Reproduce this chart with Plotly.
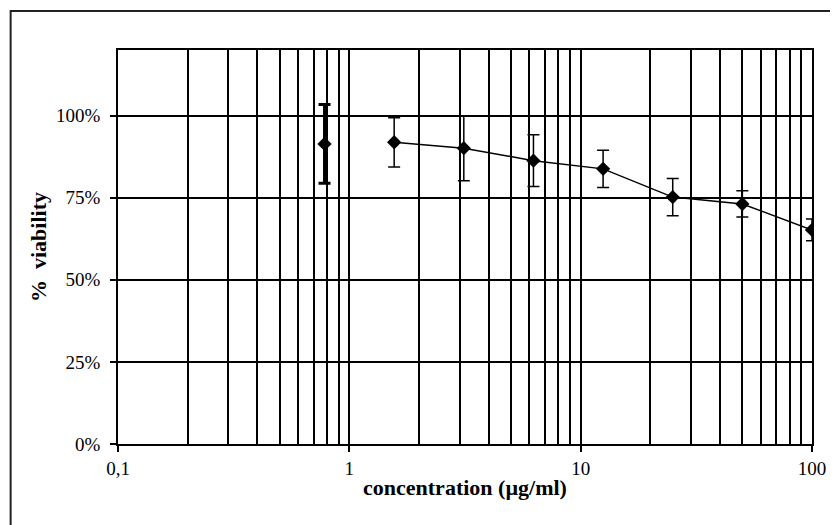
import plotly.graph_objects as go

# concentrations (µg/ml)
conc_first = [0.78125]
viab_first = [0.914]
err_first = [0.12]

conc = [1.5625, 3.125, 6.25, 12.5, 25, 50, 100]
viab = [0.919, 0.901, 0.863, 0.838, 0.752, 0.731, 0.652]
err = [0.075, 0.099, 0.079, 0.057, 0.057, 0.040, 0.033]

x_tickvals = [0.1, 1, 10, 100]
x_ticktext = ["0,1", "1", "10", "100"]
x_minor = [m * d for d in (0.1, 1, 10) for m in range(2, 10)]
y_tickvals = [0, 0.25, 0.5, 0.75, 1.0]
y_ticktext = ["0%", "25%", "50%", "75%", "100%"]

FONT = "Liberation Serif, Times New Roman, serif"

fig = go.Figure()
fig.add_trace(go.Scatter(
    x=conc_first, y=viab_first, mode="markers",
    marker=dict(symbol="diamond", size=11, color="black"),
    error_y=dict(type="data", array=err_first, visible=True, color="black",
                 thickness=3, width=6),
    showlegend=False))
fig.add_trace(go.Scatter(
    x=conc, y=viab, mode="lines+markers",
    line=dict(color="black", width=1.5),
    marker=dict(symbol="diamond", size=11, color="black"),
    error_y=dict(type="data", array=err, visible=True, color="black",
                 thickness=1.5, width=6),
    showlegend=False))

fig.update_layout(
    width=830, height=517,
    margin=dict(l=110, r=22, t=42, b=81),
    paper_bgcolor="white", plot_bgcolor="white",
    font=dict(family=FONT, color="black", size=18),
    xaxis=dict(
        type="log", range=[-1, 2],
        tickvals=x_tickvals, ticktext=x_ticktext,
        ticks="outside", ticklen=6, tickcolor="black", tickwidth=1.5,
        showgrid=True, gridcolor="black", gridwidth=1.5,
        minor=dict(tickvals=x_minor, showgrid=True, gridcolor="black",
                   gridwidth=1.5, ticks=""),
        showline=True, linecolor="black", linewidth=1.5, mirror=True,
        zeroline=False,
        tickfont=dict(family=FONT, size=19),
        title=dict(text="<b>concentration (µg/ml)</b>",
                   font=dict(family=FONT, size=22), standoff=2),
    ),
    yaxis=dict(
        range=[0, 1.2],
        tickvals=y_tickvals, ticktext=y_ticktext,
        ticks="outside", ticklen=6, tickcolor="black", tickwidth=1.5,
        ticklabelstandoff=6,
        showgrid=True, gridcolor="black", gridwidth=1.5,
        showline=True, linecolor="black", linewidth=1.5, mirror=True,
        zeroline=False,
        tickfont=dict(family=FONT, size=19),
        title=dict(text="<b>%  viability</b>",
                   font=dict(family=FONT, size=22), standoff=3),
    ),
    shapes=[dict(type="rect", xref="paper", yref="paper",
                 x0=-0.1547, x1=1.05, y0=-0.25, y1=1.099,
                 line=dict(color="#222", width=2), layer="below")],
)

fig.write_html("out.html")
